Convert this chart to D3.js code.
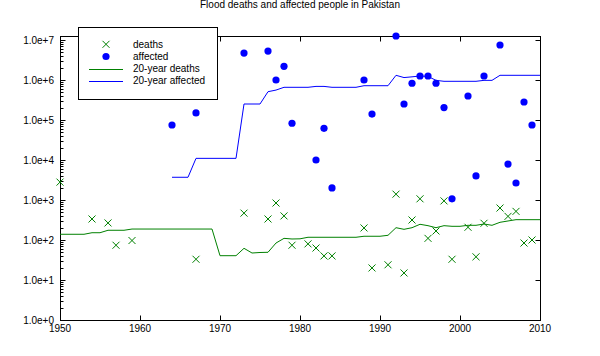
<!DOCTYPE html>
<html>
<head>
<meta charset="utf-8">
<script src="https://cdn.jsdelivr.net/npm/d3@7"></script>
<style>
  html, body { margin: 0; padding: 0; background: #fff; }
  svg { display: block; }
  text { font-family: "Liberation Sans", Arial, Helvetica, sans-serif; font-size: 10px; fill: #000; }
</style>
</head>
<body>
<svg id="chart" width="600" height="356"></svg>
<script>
// ---- data ----
const title = "Flood deaths and affected people in Pakistan";
const deathYears = [1950,1954,1956,1957,1959,1967,1973,1976,1977,1978,1979,1981,1982,1983,1984,1988,1989,1991,1992,1993,1994,1995,1996,1997,1998,1999,2001,2002,2003,2005,2006,2007,2008,2009];
const deathValues = [2800,335,267,74,97,33,470,335,840,400,74,80,63,40,40,200,20,24,1400,15,316,1070,110,168,950,33,208,38,262,630,390,520,84,100];
const affectedYears = [1964,1967,1973,1976,1977,1978,1979,1982,1983,1984,1988,1989,1992,1993,1994,1995,1996,1997,1998,1999,2001,2002,2003,2005,2006,2007,2008,2009];
const affectedValues = [75000,150000,4700000,5300000,1000000,2200000,83000,10000,62000,2000,1000000,141000,12600000,251000,830000,1260000,1260000,830000,204000,1070,398000,4000,1260000,7500000,7900,2660,282000,75000];
const avgDeathYears = [1950,1951,1952,1953,1954,1955,1956,1957,1958,1959,1960,1961,1962,1963,1964,1965,1966,1967,1968,1969,1970,1971,1972,1973,1974,1975,1976,1977,1978,1979,1980,1981,1982,1983,1984,1985,1986,1987,1988,1989,1990,1991,1992,1993,1994,1995,1996,1997,1998,1999,2000,2001,2002,2003,2004,2005,2006,2007,2008,2009,2010];
const avgDeathValues = [139,139,139,139,152,152,175,175,175,188,188,188,188,188,188,188,188,188,188,188,40.5,40.5,40.5,62,47.3,48.7,49.3,84,110,106,107,117,117,117,117,117,117,117,124,124,124,131,203,185,203,247,228,203,228,220,220,233,233,251,233,277,299,322,322,322,322];
const avgAffectedYears = [1964,1965,1966,1967,1968,1969,1970,1971,1972,1973,1974,1975,1976,1977,1978,1979,1980,1981,1982,1983,1984,1985,1986,1987,1988,1989,1990,1991,1992,1993,1994,1995,1996,1997,1998,1999,2000,2001,2002,2003,2004,2005,2006,2007,2008,2009,2010];
const avgAffectedValues = [3700,3700,3700,11000,11000,11000,11000,11000,11000,251000,251000,251000,510000,560000,657000,657000,657000,657000,692000,692000,657000,657000,657000,657000,720000,720000,720000,720000,1310000,1150000,1200000,1260000,1230000,980000,928000,928000,928000,928000,928000,980000,980000,1310000,1310000,1310000,1310000,1310000,1310000];
const xTicks = [1950,1960,1970,1980,1990,2000,2010];
const yTicks = [1,10,100,1000,10000,100000,1000000,10000000];
const yTickLabels = ["1.0e+0","1.0e+1","1.0e+2","1.0e+3","1.0e+4","1.0e+5","1.0e+6","1.0e+7"];
const legendLabels = ["deaths","affected","20-year deaths","20-year affected"];

const GREEN = "#008000", BLUE = "#0000ff";

// ---- layout ----
const svg = d3.select("#chart");
const L = 60, R = 540, T = 36, B = 320;
const x = d3.scaleLinear().domain([1950, 2010]).range([L, R]);
const y = d3.scaleLog().domain([1, 1.259e7]).range([B, T]);

svg.append("text").attr("x", 300).attr("y", 8).attr("text-anchor", "middle").text(title);

// frame
svg.append("rect").attr("x", L + 0.5).attr("y", T + 0.5).attr("width", R - L).attr("height", B - T)
  .attr("fill", "none").attr("stroke", "#000").attr("stroke-width", 1);

const g = svg.append("g").attr("stroke", "#000").attr("stroke-width", 1);
// x ticks bottom (inward) and top (inward)
xTicks.forEach(t => {
  const px = Math.round(x(t)) + 0.5;
  g.append("line").attr("x1", px).attr("x2", px).attr("y1", B + 0.5).attr("y2", B - 4.5);
  g.append("line").attr("x1", px).attr("x2", px).attr("y1", T + 0.5).attr("y2", T + 5.5);
  svg.append("text").attr("x", x(t)).attr("y", 332).attr("text-anchor", "middle").text(t);
});
// y major ticks (left & right) + minor ticks left
yTicks.forEach((t, i) => {
  const py = Math.round(y(t)) + 0.5;
  g.append("line").attr("x1", L + 0.5).attr("x2", L + 5.5).attr("y1", py).attr("y2", py);
  g.append("line").attr("x1", R + 0.5).attr("x2", R - 4.5).attr("y1", py).attr("y2", py);
  svg.append("text").attr("x", 54).attr("y", y(t) + 3.6).attr("text-anchor", "end").text(yTickLabels[i]);
});
y.ticks().filter(t => yTicks.indexOf(t) < 0).forEach(t => {
  const py = Math.round(y(t)) + 0.5;
  g.append("line").attr("x1", L + 0.5).attr("x2", L + 3.5).attr("y1", py).attr("y2", py);
});

// lines
const lineGen = d3.line().x(d => x(d[0])).y(d => y(d[1]));
svg.append("path").datum(d3.zip(avgDeathYears, avgDeathValues)).attr("d", lineGen)
  .attr("fill", "none").attr("stroke", GREEN).attr("stroke-width", 1);
svg.append("path").datum(d3.zip(avgAffectedYears, avgAffectedValues)).attr("d", lineGen)
  .attr("fill", "none").attr("stroke", BLUE).attr("stroke-width", 1);

// points
function cross(sel, cx, cy) {
  const s = 3.5;
  sel.append("path").attr("d", `M${cx - s},${cy - s}L${cx + s},${cy + s}M${cx - s},${cy + s}L${cx + s},${cy - s}`)
    .attr("stroke", GREEN).attr("stroke-width", 1).attr("fill", "none");
}
const pts = svg.append("g");
d3.zip(deathYears, deathValues).forEach(d => cross(pts, x(d[0]), y(d[1])));
pts.selectAll("circle").data(d3.zip(affectedYears, affectedValues)).join("circle")
  .attr("cx", d => x(d[0])).attr("cy", d => y(d[1])).attr("r", 3.6).attr("fill", BLUE);

// legend
const lg = svg.append("g");
lg.append("rect").attr("x", 78.5).attr("y", 27.5).attr("width", 139).attr("height", 72)
  .attr("fill", "#fff").attr("stroke", "#000").attr("stroke-width", 1);
const rows = [44.3, 56.5, 68.8, 80.8];
cross(lg, 106, rows[0]);
lg.append("circle").attr("cx", 106).attr("cy", rows[1]).attr("r", 3.6).attr("fill", BLUE);
lg.append("line").attr("x1", 89).attr("x2", 123).attr("y1", 69.5).attr("y2", 69.5).attr("stroke", GREEN);
lg.append("line").attr("x1", 89).attr("x2", 123).attr("y1", 81.5).attr("y2", 81.5).attr("stroke", BLUE);
legendLabels.forEach((t, i) => lg.append("text").attr("x", 133).attr("y", rows[i] + 3.6).text(t));
</script>
</body>
</html>
